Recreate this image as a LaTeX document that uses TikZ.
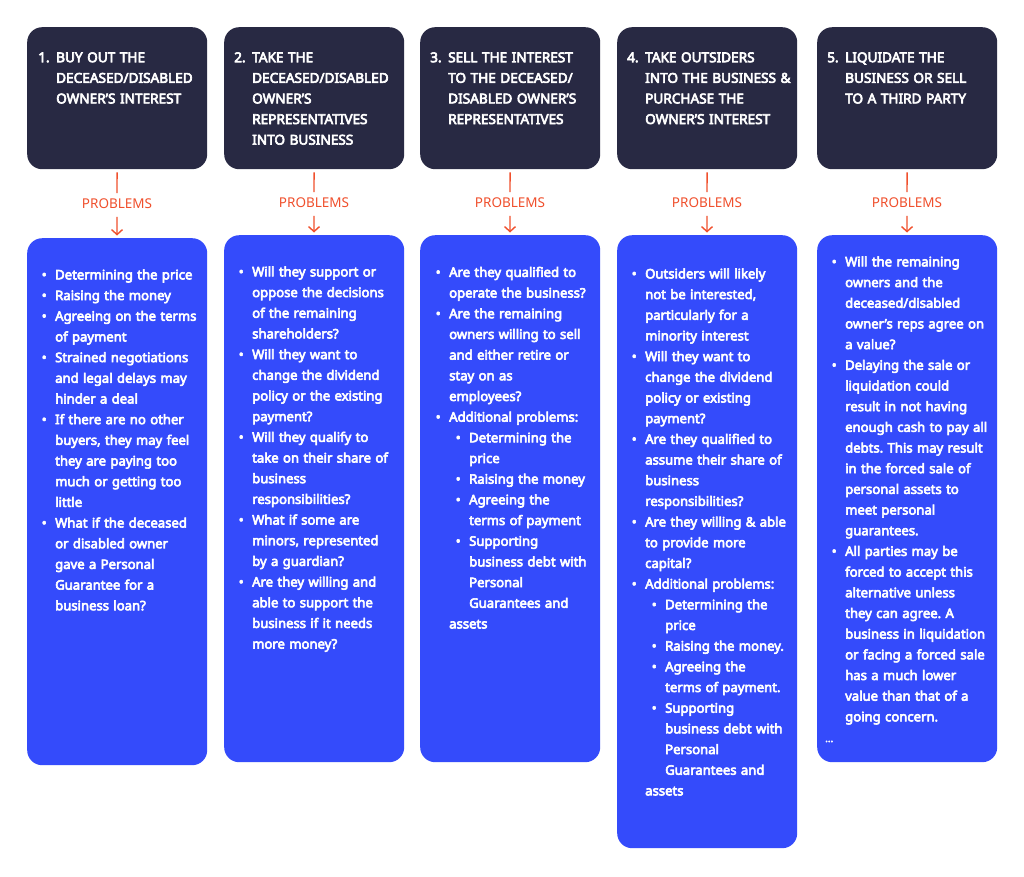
\documentclass[tikz,border=0pt]{standalone}
\usepackage{fontspec}
\setmainfont{Noto Sans}[AutoFakeBold=4.5]
\usetikzlibrary{arrows.meta}
\definecolor{navy}{HTML}{282943}
\definecolor{royal}{HTML}{344BFB}
\definecolor{accent}{HTML}{F0502D}
\newcommand\bodyfnt{\bfseries\fontsize{13.1}{20.68}\selectfont\parindent=0pt\parskip=0pt\frenchspacing}
\newcommand\hdfnt{\bfseries\fontsize{13.6}{20.6}\selectfont\parindent=0pt\parskip=0pt\frenchspacing}
\newcommand\bi{\par\leftskip=0pt\leavevmode\llap{\makebox[22pt][c]{\textbullet}}}
\newcommand\sbi{\par\leftskip=20pt\leavevmode\llap{\makebox[22pt][c]{\textbullet}}}
\newcommand\num[1]{\leavevmode\llap{\makebox[18pt][l]{#1}}}
\newcommand\fst{\rule{0pt}{15pt}}
\tikzset{
  x=1pt, y=-1pt,
  darkbox/.style={fill=navy, rounded corners=15pt, minimum width=180pt, minimum height=142pt, inner sep=0pt, anchor=north west},
  bluebox/.style={fill=royal, rounded corners=15pt, minimum width=180pt, inner sep=0pt, anchor=north west},
  headtext/.style={text=white, font=\hdfnt, text width=250pt, align=left, inner sep=0pt, anchor=north west},
  bodytext/.style={text=white, font=\bodyfnt, text width=250pt, align=left, inner sep=0pt, anchor=north west},
  problabel/.style={text=accent, font=\fontsize{13.5}{13.5}\selectfont, inner sep=0pt, text height=9.5pt, text depth=0pt},
  link/.style={draw=accent, line width=1.4pt},
  tip/.style={-{Straight Barb[length=5pt,width=11pt]}},
}
\begin{document}
\begin{tikzpicture}
\useasboundingbox[fill=white] (0,0) rectangle (1024,876);
% dark header boxes
\node[darkbox] (d1) at (27,27) {};
\node[darkbox] (d2) at (224,27) {};
\node[darkbox] (d3) at (420,27) {};
\node[darkbox] (d4) at (617,27) {};
\node[darkbox] (d5) at (817,27) {};
% blue boxes
\node[bluebox, minimum height=527pt] (b1) at (27,238) {};
\node[bluebox, minimum height=527pt] (b2) at (224,235) {};
\node[bluebox, minimum height=527pt] (b3) at (420,235) {};
\node[bluebox, minimum height=613pt] (b4) at (617,235) {};
\node[bluebox, minimum height=527pt] (b5) at (817,235) {};
% problems labels
\node[problabel] (p1) at (117,204) {PROBLEMS};
\node[problabel] (p2) at (314,203) {PROBLEMS};
\node[problabel] (p3) at (510,203) {PROBLEMS};
\node[problabel] (p4) at (707,203) {PROBLEMS};
\node[problabel] (p5) at (907,203) {PROBLEMS};
% connectors
\foreach \i in {1,...,5}{
  \draw[link, shorten <=3pt, shorten >=6pt] (d\i) -- (p\i);
  \draw[link, tip, shorten <=8pt, shorten >=2.5pt] (p\i) -- (b\i);
}
% header texts
\node[headtext] (h1) at (56,47) {\num{1.}\fst BUY OUT THE\\DECEASED/DISABLED\\OWNER’S INTEREST};
\node[headtext] (h2) at (252,47) {\num{2.}\fst TAKE THE\\DECEASED/DISABLED\\OWNER’S\\REPRESENTATIVES\\INTO BUSINESS};
\node[headtext] (h3) at (448,47) {\num{3.}\fst SELL THE INTEREST\\TO THE DECEASED/\\DISABLED OWNER’S\\REPRESENTATIVES};
\node[headtext] (h4) at (645,47) {\num{4.}\fst TAKE OUTSIDERS\\INTO THE BUSINESS \&\\PURCHASE THE\\OWNER’S INTEREST};
\node[headtext] (h5) at (845,47) {\num{5.}\fst LIQUIDATE THE\\BUSINESS OR SELL\\TO A THIRD PARTY};
% body texts
\node[bodytext] (t1) at (55,258.5) {%
\bi\fst Determining the price
\bi Raising the money
\bi Agreeing on the terms\\of payment
\bi Strained negotiations\\and legal delays may\\hinder a deal
\bi If there are no other\\buyers, they may feel\\they are paying too\\much or getting too\\little
\bi What if the deceased\\or disabled owner\\gave a Personal\\Guarantee for a\\business loan?};
\node[bodytext] (t2) at (252,255.5) {%
\bi\fst Will they support or\\oppose the decisions\\of the remaining\\shareholders?
\bi Will they want to\\change the dividend\\policy or the existing\\payment?
\bi Will they qualify to\\take on their share of\\business\\responsibilities?
\bi What if some are\\minors, represented\\by a guardian?
\bi Are they willing and\\able to support the\\business if it needs\\more money?};
\node[bodytext] (t3) at (449,256) {%
\bi\fst Are they qualified to\\operate the business?
\bi Are the remaining\\owners willing to sell\\and either retire or\\stay on as\\employees?
\bi Additional problems:
\sbi Determining the\\price
\sbi Raising the money
\sbi Agreeing the\\terms of payment
\sbi Supporting\\business debt with\\Personal\\Guarantees and\\assets};
\node[bodytext] (t4) at (645,257.5) {%
\bi\fst Outsiders will likely\\not be interested,\\particularly for a\\minority interest
\bi Will they want to\\change the dividend\\policy or existing\\payment?
\bi Are they qualified to\\assume their share of\\business\\responsibilities?
\bi Are they willing \& able\\to provide more\\capital?
\bi Additional problems:
\sbi Determining the\\price
\sbi Raising the money.
\sbi Agreeing the\\terms of payment.
\sbi Supporting\\business debt with\\Personal\\Guarantees and\\assets};
\node[bodytext] (t5) at (845,245.5) {%
\bi\fst Will the remaining\\owners and the\\deceased/disabled\\owner's reps agree on\\a value?
\bi Delaying the sale or\\liquidation could\\result in not having\\enough cash to pay all\\debts. This may result\\in the forced sale of\\personal assets to\\meet personal\\guarantees.
\bi All parties may be\\forced to accept this\\alternative unless\\they can agree. A\\business in liquidation\\or facing a forced sale\\has a much lower\\value than that of a\\going concern.
\par\leftskip=0pt\leavevmode\hspace*{-20pt}{\fontsize{10}{18}\selectfont ...}};
\end{tikzpicture}
\end{document}
